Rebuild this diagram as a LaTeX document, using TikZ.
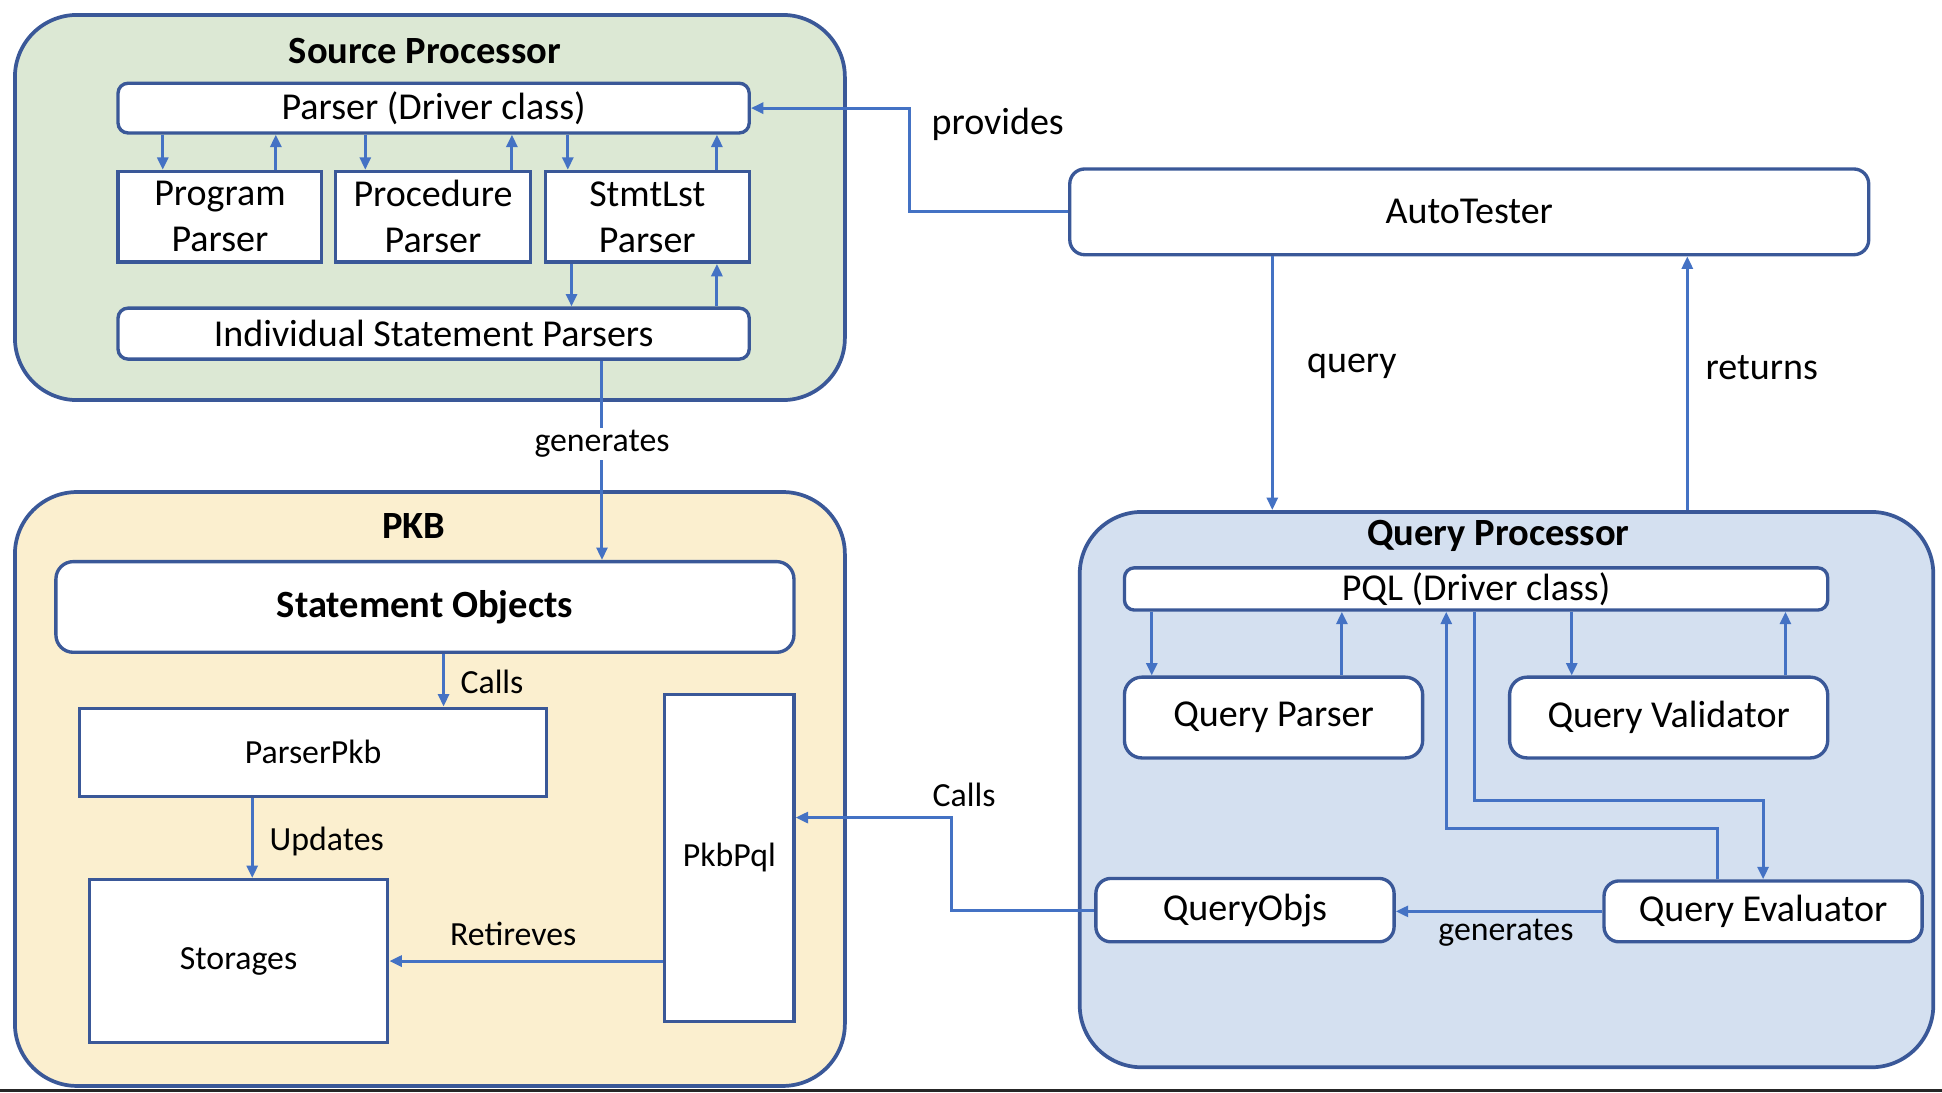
\documentclass[tikz,border=0pt]{standalone}
\usepackage{fontspec}
\setmainfont{Carlito}
\usetikzlibrary{arrows.meta,fit}
\definecolor{grpline}{HTML}{3A5898}
\definecolor{arrline}{HTML}{4472C4}
\definecolor{spfill}{HTML}{DCE8D4}
\definecolor{pkbfill}{HTML}{FBEFCF}
\definecolor{qpfill}{HTML}{D4E0F0}
\tikzset{
  big/.style={font=\fontsize{15.3pt}{18.5pt}\selectfont, align=center, inner sep=0pt},
  small/.style={font=\fontsize{13.6pt}{16pt}\selectfont},
  ttl/.style={font=\fontsize{15.5pt}{18pt}\selectfont\bfseries, inner sep=0pt},
  grp/.style={draw=grpline, line width=1.5pt, rounded corners=25pt, inner sep=0pt},
  bx/.style={draw=grpline, line width=1.35pt, fill=white, inner sep=0pt},
  rbx/.style={bx, rounded corners=4pt},
  arr/.style={draw=arrline, line width=1.2pt, -{Triangle[length=5pt,width=4.4pt]}},
  lbl/.style={inner sep=1pt}
}
\begin{document}
\begin{tikzpicture}[x=0.5pt,y=-0.5pt]
\useasboundingbox (0,0) rectangle (1563,879);
% groups
\node[grp, fill=spfill, fit={(12,12)(680,322)}] (sp) {};
\node[grp, fill=pkbfill, fit={(12,396)(680,874)}] (pkb) {};
\node[grp, fill=qpfill, fit={(869,412)(1556,859)}] (qp) {};
\node[ttl] (spt) at (342,41) {Source Processor};
\node[ttl] (pkbt) at (333,423) {PKB};
\node[ttl] (qpt) at (1206,431) {Query Processor};
% source processor
\node[rbx, fit={(95,67)(603,107)}] (parser) {};
\node[big] (parsert) at (parser.center) {Parser (Driver class)};
\node[bx, fit={(95,138)(259,211)}] (prog) {};
\node[big] (progt) at (prog.center) {Program\\Parser};
\node[bx, fit={(270,138)(427,211)}] (proc) {};
\node[big] (proct) at (proc.center) {Procedure\\Parser};
\node[bx, fit={(439,138)(603,211)}] (stmt) {};
\node[big] (stmtt) at (stmt.center) {StmtLst\\Parser};
\node[rbx, fit={(95,248)(603,289)}] (isp) {};
\node[big] (ispt) at (isp.center) {Individual Statement Parsers};
% pkb
\node[bx, rounded corners=7pt, fit={(45,452)(639,525)}] (so) {};
\node[ttl] (sot) at (so.center) {Statement Objects};
\node[bx, fit={(64,570)(440,641)}] (ppkb) {};
\node[small] (ppkbt) at (ppkb.center) {ParserPkb};
\node[bx, fit={(72,708)(312,839)}] (stor) {};
\node[small] (stort) at (stor.center) {Storages};
\node[bx, fit={(535,559)(639,822)}] (pkbpql) {};
\node[small] (pkbpqlt) at (pkbpql.center) {PkbPql};
% autotester
\node[rbx, rounded corners=6pt, fit={(861,136)(1504,205)}] (auto) {};
\node[big] (autot) at (auto.center) {AutoTester};
% query processor
\node[rbx, fit={(905,457)(1471,491)}] (pql) {};
\node[big] (pqlt) at (pql.center) {PQL (Driver class)};
\node[rbx, rounded corners=7pt, fit={(905,545)(1145,610)}] (qpar) {};
\node[big] (qpart) at (qpar.center) {Query Parser};
\node[rbx, rounded corners=7pt, fit={(1215,545)(1471,610)}] (qval) {};
\node[big] (qvalt) at (qval.center) {Query Validator};
\node[rbx, rounded corners=6pt, fit={(882,707)(1122,758)}] (qobj) {};
\node[big] (qobjt) at (qobj.center) {QueryObjs};
\node[rbx, rounded corners=6pt, fit={(1291,709)(1547,758)}] (qeval) {};
\node[big] (qevalt) at (qeval.center) {Query Evaluator};
% helper coordinates
\coordinate (a1) at (131,0); \coordinate (a2) at (222,0);
\coordinate (a3) at (294,0); \coordinate (a4) at (412,0);
\coordinate (a5) at (457,0); \coordinate (a6) at (577,0);
\coordinate (b1) at (460,0); \coordinate (b2) at (577,0);
\coordinate (g1) at (484.5,0);
\coordinate (k1) at (357,0); \coordinate (k2) at (203,0);
\coordinate (pv) at (732,0);
\coordinate (q1) at (1024,0); \coordinate (r1) at (1358,0);
\coordinate (p1) at (927,0); \coordinate (p2) at (1080,0);
\coordinate (p3) at (1265,0); \coordinate (p4) at (1437,0);
\coordinate (e1) at (1187,644); \coordinate (ex) at (1419,0);
\coordinate (u1) at (1382,667); \coordinate (ux) at (1164,0);
\coordinate (c1) at (766,658);
% source processor arrows
\draw[arr] (parser.south -| a1) -- (prog.north -| a1);
\draw[arr] (prog.north -| a2) -- (parser.south -| a2);
\draw[arr] (parser.south -| a3) -- (proc.north -| a3);
\draw[arr] (proc.north -| a4) -- (parser.south -| a4);
\draw[arr] (parser.south -| a5) -- (stmt.north -| a5);
\draw[arr] (stmt.north -| a6) -- (parser.south -| a6);
\draw[arr] (stmt.south -| b1) -- (isp.north -| b1);
\draw[arr] (isp.north -| b2) -- (stmt.south -| b2);
% generates
\draw[arr] (isp.south -| g1) -- (so.north -| g1);
\node[lbl, small, fill=white] (gen1) at (484.5,357) {generates};
% pkb arrows
\draw[arr] (so.south -| k1) -- (ppkb.north -| k1);
\node[lbl, small] (callsl) at (396,549) {Calls};
\draw[arr] (ppkb.south -| k2) -- (stor.north -| k2);
\node[lbl, small] (upd) at (263,677) {Updates};
\draw[arr] (pkbpql.west |- stor.east) -- (stor.east);
\node[lbl, small] (ret) at (413,752) {Retireves};
% autotester arrows
\draw[arr] (auto.west) -| (pv |- parser.east) -- (parser.east);
\node[lbl, big] (prov) at (803,100) {provides};
\draw[arr] (auto.south -| q1) -- (qp.north -| q1);
\node[lbl, big] (qry) at (1088,295) {query};
\draw[arr] (qp.north -| r1) -- (auto.south -| r1);
\node[lbl, big] (ret2) at (1418,296) {returns};
% query processor arrows
\draw[arr] (pql.south -| p1) -- (qpar.north -| p1);
\draw[arr] (qpar.north -| p2) -- (pql.south -| p2);
\draw[arr] (pql.south -| p3) -- (qval.north -| p3);
\draw[arr] (qval.north -| p4) -- (pql.south -| p4);
\draw[arr] (pql.south -| e1) -- (e1) -| (qeval.north -| ex);
\draw[arr] (qeval.north -| u1) -- (u1) -| (pql.south -| ux);
\draw[arr] (qeval.west) -- (qobj.east |- qeval.west);
\node[lbl, small] (gen2) at (1212,751) {generates};
\draw[arr] (qobj.west) -| (c1) -- (pkbpql.east |- c1);
\node[lbl, small] (calls2) at (776,640) {Calls};
% bottom edge line
\draw[line width=1.2pt, color=black!85] (0,878) -- (1563,878);
\end{tikzpicture}
\end{document}
